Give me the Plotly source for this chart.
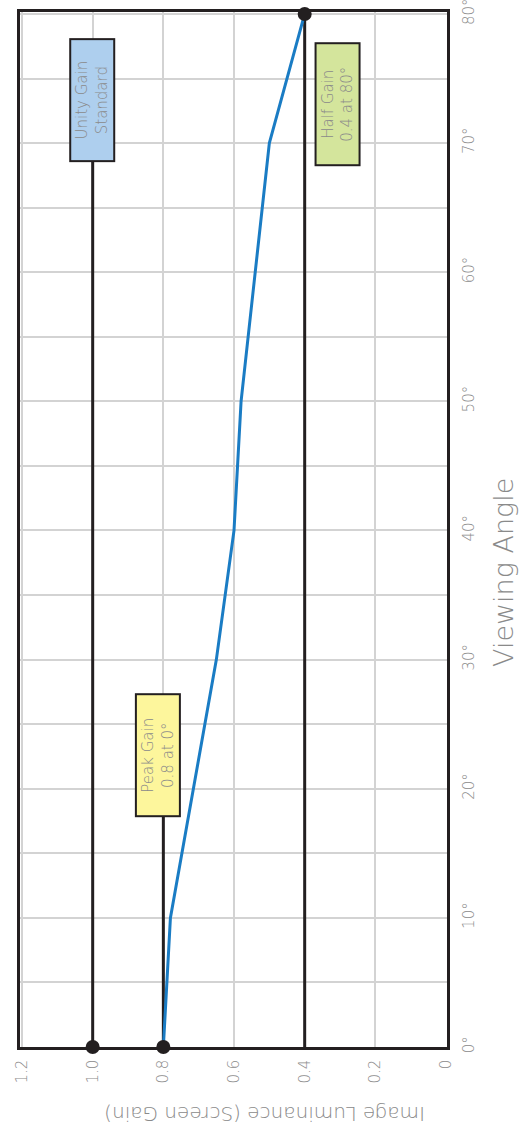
import plotly.graph_objects as go

angles = [0, 10, 30, 40, 50, 70, 80]
gain = [0.80, 0.78, 0.65, 0.60, 0.58, 0.50, 0.40]

unity_gain = 1.0
unity_top = 69
peak_gain = 0.8
peak_top = 18
half_gain = 0.4
half_top = 80

x_ticks = [1.2, 1.0, 0.8, 0.6, 0.4, 0.2, 0.0]
x_ticktext = ["1.2", "1.0", "0.8", "0.6", "0.4", "0.2", "0"]
y_ticks = [0, 10, 20, 30, 40, 50, 60, 70, 80]
y_ticktext = [f"{v}°" for v in y_ticks]

FONT = "DejaVu Sans"
W = 200
GREY = "#8a8a8a"
BLACK = "#231f20"

fig = go.Figure()

# reference lines
fig.add_trace(go.Scatter(x=[unity_gain, unity_gain], y=[0, unity_top], mode="lines",
                         line=dict(color=BLACK, width=3), hoverinfo="skip", showlegend=False))
fig.add_trace(go.Scatter(x=[peak_gain, peak_gain], y=[0, peak_top], mode="lines",
                         line=dict(color=BLACK, width=3), hoverinfo="skip", showlegend=False))
fig.add_trace(go.Scatter(x=[half_gain, half_gain], y=[0, half_top], mode="lines",
                         line=dict(color=BLACK, width=3), hoverinfo="skip", showlegend=False))

# data curve
fig.add_trace(go.Scatter(x=gain, y=angles, mode="lines",
                         line=dict(color="#1a7cc4", width=3), showlegend=False))

# dots
fig.add_trace(go.Scatter(x=[unity_gain, peak_gain, half_gain], y=[0, 0, half_top], mode="markers",
                         marker=dict(color=BLACK, size=14), cliponaxis=False, showlegend=False))

def box(x, y, text, color):
    fig.add_annotation(x=x, y=y, xref="x", yref="y", text=text, textangle=-90,
                       showarrow=False, bgcolor=color, bordercolor=BLACK, borderwidth=2,
                       width=118, height=40, align="center",
                       font=dict(family=FONT, size=15, color=GREY, weight=W))

box(1.0, 73.3, "Unity Gain<br>Standard", "#aecfee")
box(0.815, 22.6, "Peak Gain<br>0.8 at 0°", "#fdf69c")
box(0.306, 73.0, "Half Gain<br>0.4 at 80°", "#d4e59c")

fig.add_annotation(x=(503 - 20) / 427, y=(1047 - 572) / 1035, xref="paper", yref="paper",
                   xanchor="center", yanchor="middle",
                   text="Viewing Angle", textangle=-90, showarrow=False,
                   font=dict(family=FONT, size=27, color=GREY, weight=W))
fig.add_annotation(x=(265 - 20) / 427, y=(1047 - 1114) / 1035, xref="paper", yref="paper",
                   xanchor="center", yanchor="middle",
                   text="Image Luminance (Screen Gain)", textangle=180, showarrow=False,
                   font=dict(family=FONT, size=20, color=GREY, weight=W))

fig.update_layout(
    width=520, height=1142,
    margin=dict(l=20, r=73, t=12, b=95),
    paper_bgcolor="white", plot_bgcolor="white",
    xaxis=dict(range=[1.2057, -0.0028], tickvals=x_ticks, ticktext=x_ticktext, automargin=False,
               tickangle=-90, showgrid=True, gridcolor="#d3d3d3", gridwidth=1.5,
               zeroline=False, showline=True, linecolor=BLACK, linewidth=2.5, mirror=True,
               ticks="", ticklabelstandoff=4, ticklabeloverflow="allow",
               tickfont=dict(family=FONT, size=15, color=GREY, weight=W)),
    yaxis=dict(range=[0, 80.15], tickvals=y_ticks, ticktext=y_ticktext, side="right", automargin=False,
               tickangle=-90, showgrid=True, gridcolor="#d3d3d3", gridwidth=1.5,
               minor=dict(dtick=5, showgrid=True, gridcolor="#d3d3d3", gridwidth=1.5),
               zeroline=False, showline=True, linecolor=BLACK, linewidth=2.5, mirror=True,
               ticks="", ticklabelstandoff=6, ticklabeloverflow="allow",
               tickfont=dict(family=FONT, size=15, color=GREY, weight=W)),
)

fig.write_html("out.html", config={"displayModeBar": False},
               post_script="document.body.style.margin='0';document.body.style.padding='0';")
